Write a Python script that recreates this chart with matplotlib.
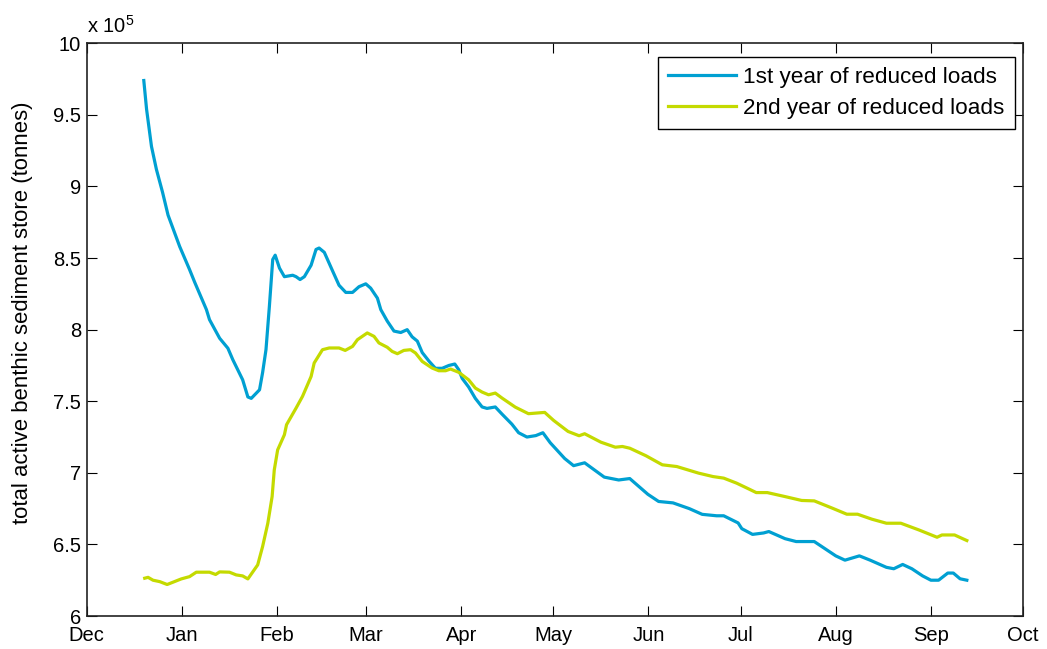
import datetime as dt
import numpy as np
import matplotlib
matplotlib.use("Agg")
import matplotlib.pyplot as plt
import matplotlib.dates as mdates
from matplotlib.ticker import FuncFormatter, MultipleLocator

plt.rcParams['font.family'] = ['Liberation Sans', 'DejaVu Sans']
plt.rcParams['mathtext.default'] = 'regular'

# days after 1 December, values in units of 1e5 tonnes
start_date = dt.datetime(2003, 12, 1)
end_date = dt.datetime(2004, 10, 1)

days_year1 = [18.6, 19.5, 21.1, 22.7, 24.7, 26.5, 30.3, 33.5, 35.2, 39.0, 40.0, 43.3, 46.0,
              47.6, 50.8, 52.5, 53.6, 56.3, 57.3, 58.4, 59.5, 60.6, 61.4, 62.8, 64.4, 67.1,
              68.2, 69.5, 70.9, 73.1, 74.7, 75.7, 77.4, 80.1, 82.2, 84.4, 86.6, 88.7, 90.9,
              92.5, 94.7, 95.8, 97.9, 100.1, 102.3, 104.4, 106.0, 107.7, 109.3, 111.5, 113.6,
              115.8, 118.0, 119.9, 121.2, 122.3, 124.4, 126.6, 128.8, 130.4, 133.1, 135.3,
              138.5, 140.7, 143.4, 146.3, 148.6, 151.0, 155.7, 158.6, 162.2, 168.6, 173.3,
              176.9, 182.8, 186.3, 191.0, 196.3, 200.5, 205.2, 207.5, 212.2, 213.4, 216.9,
              220.5, 222.2, 227.5, 231.1, 237.0, 240.5, 244.0, 247.0, 251.7, 255.2, 260.5,
              262.9, 265.8, 268.8, 272.3, 275.0, 277.5, 280.5, 282.3, 284.5, 286.7]
store_year1 = [9.74, 9.54, 9.28, 9.12, 8.96, 8.80, 8.58, 8.42, 8.33, 8.14, 8.07, 7.94, 7.87,
               7.79, 7.65, 7.53, 7.52, 7.58, 7.70, 7.86, 8.16, 8.49, 8.52, 8.43, 8.37, 8.38,
               8.37, 8.35, 8.37, 8.45, 8.56, 8.57, 8.54, 8.41, 8.31, 8.26, 8.26, 8.30, 8.32,
               8.29, 8.22, 8.14, 8.06, 7.99, 7.98, 8.00, 7.95, 7.92, 7.84, 7.78, 7.73,
               7.73, 7.75, 7.76, 7.72, 7.66, 7.60, 7.52, 7.46, 7.45, 7.46, 7.41,
               7.34, 7.28, 7.25, 7.26, 7.28, 7.21, 7.10, 7.05, 7.07, 6.97, 6.95,
               6.96, 6.85, 6.80, 6.79, 6.75, 6.71, 6.70, 6.70, 6.65, 6.61, 6.57,
               6.58, 6.59, 6.54, 6.52, 6.52, 6.47, 6.42, 6.39, 6.42, 6.39, 6.34,
               6.33, 6.36, 6.33, 6.28, 6.25, 6.25, 6.30, 6.30, 6.26, 6.25]

days_year2 = [18.9, 20.0, 21.6, 23.8, 26.2, 28.1, 30.8, 33.5, 35.7, 40.0, 42.0, 43.3, 46.5,
              48.7, 50.8, 52.5, 55.7, 57.3, 59.0, 60.4, 61.1, 62.2, 64.4, 65.1, 68.2, 70.3,
              73.1, 74.1, 76.8, 79.0, 82.2, 84.2, 86.6, 88.2, 91.4, 93.6, 95.2, 97.9, 99.5,
              101.2, 103.3, 105.5, 107.1, 109.3, 112.5, 114.7, 116.9, 118.5, 121.2, 124.4,
              126.6, 128.8, 130.9, 133.1, 135.3, 139.6, 143.9, 149.2, 152.1, 156.8, 160.4,
              162.2, 167.5, 172.2, 174.5, 176.9, 182.2, 187.5, 192.2, 199.3, 204.0, 207.5,
              211.7, 215.8, 218.1, 221.7, 227.5, 232.9, 237.0, 242.9, 247.6, 251.1, 255.8,
              260.5, 265.2, 271.1, 277.0, 278.6, 282.7, 286.7]
store_year2 = [6.264, 6.27, 6.25, 6.24, 6.22, 6.236, 6.259, 6.275, 6.306, 6.306, 6.29, 6.308,
               6.306, 6.287, 6.28, 6.259, 6.357, 6.485, 6.648, 6.834, 7.02, 7.16, 7.266,
               7.336, 7.452, 7.534, 7.673, 7.767, 7.86, 7.872, 7.872, 7.855, 7.883, 7.93,
               7.977, 7.953, 7.907, 7.877, 7.848, 7.832, 7.855, 7.86, 7.837, 7.778, 7.732,
               7.713, 7.713, 7.725, 7.702, 7.65, 7.592, 7.564, 7.545, 7.557, 7.522, 7.459,
               7.413, 7.422, 7.366, 7.289, 7.259, 7.273, 7.214, 7.179, 7.184, 7.172, 7.119,
               7.056, 7.044, 6.998, 6.974, 6.963, 6.928, 6.886, 6.862, 6.862, 6.834, 6.807,
               6.804, 6.753, 6.711, 6.711, 6.676, 6.648, 6.648, 6.601, 6.55, 6.566, 6.566,
               6.527]

series_labels = ['1st year of reduced loads', '2nd year of reduced loads']
series_colors = ['#00A0D2', '#C4DA00']
y_label = 'total active benthic sediment store (tonnes)'

W, H = 1047, 649
fig = plt.figure(figsize=(W / 100, H / 100), dpi=100)
ax = fig.add_axes([86.7 / W, 1 - 616 / H, (1023 - 86.7) / W, (616 - 43.3) / H])

base = mdates.date2num(start_date)
x1 = base + np.asarray(days_year1)
x2 = base + np.asarray(days_year2)
ax.plot(x1, store_year1, color=series_colors[0], lw=2.3, label=series_labels[0])
ax.plot(x2, store_year2, color=series_colors[1], lw=2.3, label=series_labels[1])

ax.set_xlim(mdates.date2num(start_date), mdates.date2num(end_date))
ax.set_ylim(6, 10)
ax.xaxis.set_major_locator(mdates.MonthLocator())
ax.xaxis.set_major_formatter(mdates.DateFormatter('%b'))
ax.yaxis.set_major_locator(MultipleLocator(0.5))
ax.yaxis.set_major_formatter(FuncFormatter(lambda v, p: '%g' % v))

ax.tick_params(direction='in', length=7, width=0.8, top=True, right=True,
               labelsize=14.5, colors='black')
ax.tick_params(axis='x', pad=7)
ax.tick_params(axis='y', pad=4)
for s in ax.spines.values():
    s.set_linewidth(1.2)
    s.set_color('#222222')

fig.text(23 / W, 1 - 313 / H, y_label, rotation=90, ha='center', va='center',
         fontsize=15.9)
ax.text(0.0, 1.012, r'x 10$^{5}$', transform=ax.transAxes, fontsize=14.5,
        ha='left', va='bottom')

leg = ax.legend(loc='upper right', bbox_to_anchor=((1015 - 86.7) / 936.3, (616 - 57) / 572.7),
                borderaxespad=0, fancybox=False, edgecolor='black', fontsize=16.2,
                handlelength=3.0, handletextpad=0.35, framealpha=1, borderpad=0.45,
                labelspacing=0.42)
leg.get_frame().set_linewidth(1.0)

fig.savefig('out.png', dpi=100)
